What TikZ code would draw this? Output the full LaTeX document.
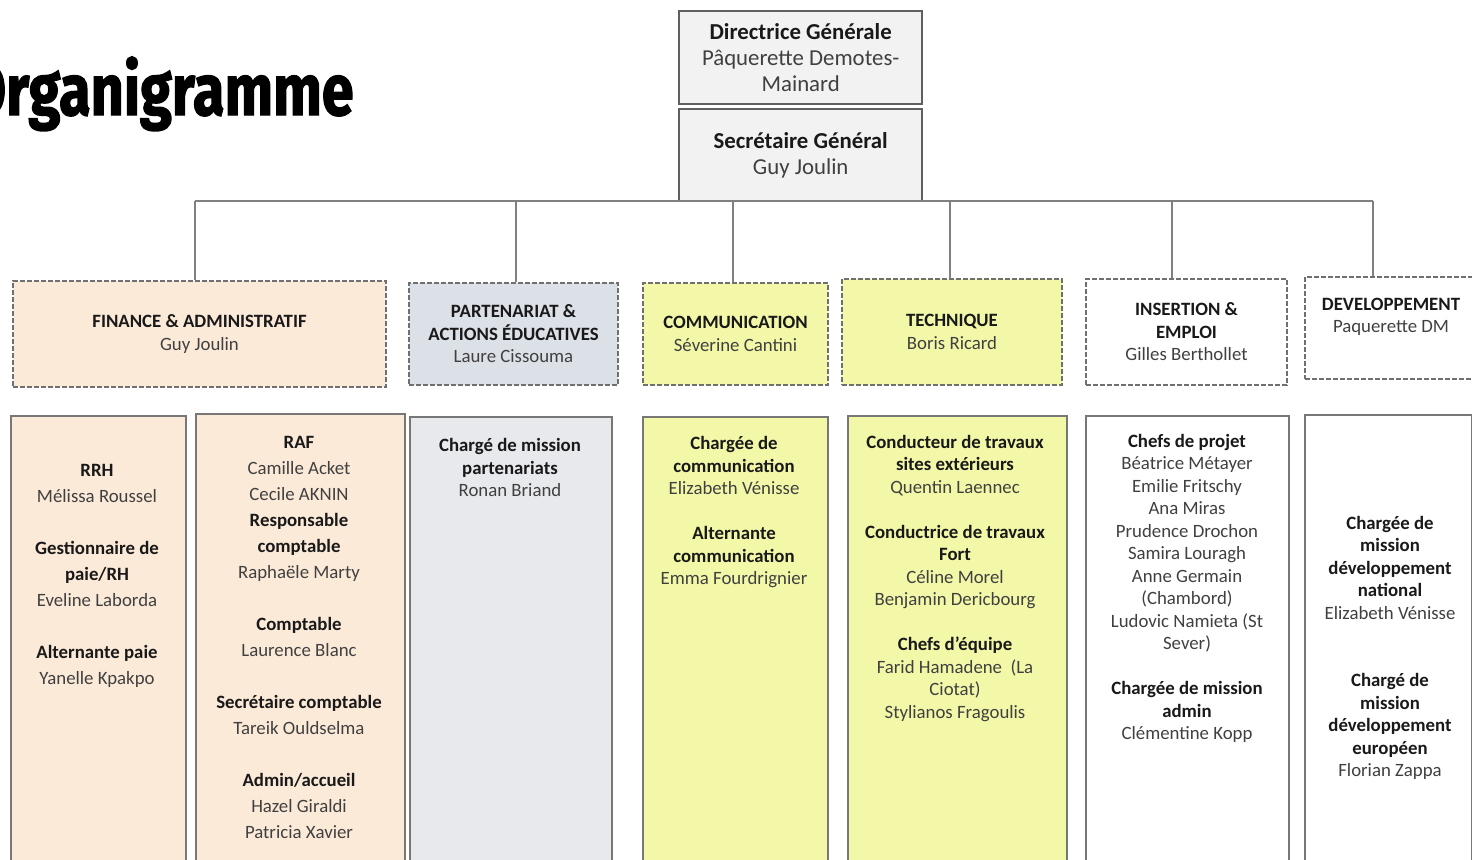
\documentclass[tikz,border=0pt]{standalone}
\usepackage{fontspec}
\setmainfont{Carlito}
\newfontfamily\titlefont{Fira Sans}[FakeBold=2]

\definecolor{peach}{HTML}{FCEAD9}
\definecolor{bluegrey}{HTML}{DCE0E7}
\definecolor{paleblue}{HTML}{E8E9EC}
\definecolor{lemon}{HTML}{F3F8A8}
\definecolor{boxgrey}{HTML}{F2F2F2}
\definecolor{namegrey}{HTML}{404040}
\definecolor{linegrey}{HTML}{808080}
\definecolor{dashgrey}{HTML}{707070}
\definecolor{framegrey}{HTML}{5F5F5F}

\newcommand{\post}[1]{{\bfseries\color{black!90}#1}}

\begin{document}
\begin{tikzpicture}[x=0.5pt, y=-0.5pt,
  topbox/.style={draw=framegrey, line width=1.2pt, fill=boxgrey, anchor=north west, inner sep=0pt,
    align=center, text=namegrey, font=\fontsize{11.4}{13}\selectfont},
  deptbox/.style={draw=dashgrey, line width=1pt, dash pattern=on 2.5pt off 1pt, anchor=north west,
    inner sep=0pt, align=center, text=namegrey, font=\fontsize{9.4}{11.25}\selectfont},
  staffbox/.style={draw=framegrey!85, line width=1.2pt, anchor=north west, inner sep=0pt},
  stafftext/.style={align=center, inner sep=0pt, text=namegrey, font=\fontsize{9.4}{11.25}\selectfont},
  loose/.style={font=\fontsize{9.4}{13}\selectfont},
  link/.style={draw=linegrey, line width=1.2pt}]
\useasboundingbox (0,0) rectangle (1472,859);

% title
\node [anchor=base east, inner sep=0pt] (title) at (354,115)
  {\titlefont\bfseries\fontsize{36}{36}\selectfont\scalebox{0.8}[1]{Organigramme}};

% direction
\node [topbox, minimum width=121.5pt, minimum height=46.5pt] (dg) at (678,10)
  {\post{Directrice Générale}\\Pâquerette Demotes-\\Mainard};
\node [topbox, minimum width=121.5pt, minimum height=46pt] (sg) at (678,108)
  {\post{Secrétaire Général}\\Guy Joulin};

% departments
\node [deptbox, fill=peach, minimum width=186.5pt, minimum height=53pt] (fin) at (12,280)
  {\post{FINANCE \& ADMINISTRATIF}\\Guy Joulin};
\node [deptbox, fill=bluegrey, minimum width=104.5pt, minimum height=51pt] (part) at (408,282)
  {\post{PARTENARIAT \&}\\\post{ACTIONS ÉDUCATIVES}\\Laure Cissouma};
\node [deptbox, fill=lemon, minimum width=92.5pt, minimum height=51pt] (comm) at (642,282)
  {\post{COMMUNICATION}\\Séverine Cantini};
\node [deptbox, fill=lemon, minimum width=110pt, minimum height=53pt] (tech) at (841,278)
  {\post{TECHNIQUE}\\Boris Ricard};
\node [deptbox, fill=white, minimum width=100.5pt, minimum height=53pt] (ins) at (1085,278)
  {\post{INSERTION \&}\\\post{EMPLOI}\\Gilles Berthollet};
\node [deptbox, fill=white, minimum width=90pt, minimum height=51pt] (dev) at (1304,276) {};
\node [stafftext] (devtxt) at (1391,317) {\post{DEVELOPPEMENT}\\Paquerette DM};

% links
\coordinate (j1) at (195,201);
\coordinate (j2) at (516,201);
\coordinate (j3) at (733,201);
\coordinate (j4) at (950,201);
\coordinate (j5) at (1172,201);
\coordinate (j6) at (1373,201);
\draw [link] (j1) -- (j6);
\draw [link] (j1) -- (j1 |- fin.north);
\draw [link] (j2) -- (j2 |- part.north);
\draw [link] (j3) -- (j3 |- comm.north);
\draw [link] (j4) -- (j4 |- tech.north);
\draw [link] (j5) -- (j5 |- ins.north);
\draw [link] (j6) -- (j6 |- dev.north);

% staff columns
\node [staffbox, fill=peach, minimum width=87.5pt, minimum height=232.5pt] (rrhbox) at (10,415) {};
\node [staffbox, fill=peach, minimum width=104.5pt, minimum height=233.5pt] (rafbox) at (195,413) {};
\node [staffbox, fill=paleblue, minimum width=101pt, minimum height=232pt] (partbox) at (409,416) {};
\node [staffbox, fill=lemon, minimum width=92.5pt, minimum height=232pt] (commbox) at (642,416) {};
\node [staffbox, fill=lemon, minimum width=109.5pt, minimum height=232.5pt] (techbox) at (847,415) {};
\node [staffbox, fill=white, minimum width=101.5pt, minimum height=232.5pt] (insbox) at (1085,415) {};
\node [staffbox, fill=white, minimum width=83.5pt, minimum height=233pt] (devbox) at (1304,414) {};

\node [stafftext, loose] (rrhtxt) at (97,575.5)
  {\post{RRH}\\Mélissa Roussel\\[13pt]\post{Gestionnaire de}\\\post{paie/RH}\\Eveline Laborda\\[13pt]%
   \post{Alternante paie}\\Yanelle Kpakpo};
\node [stafftext, loose] (raftxt) at (299,637.5)
  {\post{RAF}\\Camille Acket\\Cecile AKNIN\\\post{Responsable}\\\post{comptable}\\Raphaële Marty\\[13pt]%
   \post{Comptable}\\Laurence Blanc\\[13pt]\post{Secrétaire comptable}\\Tareik Ouldselma\\[13pt]%
   \post{Admin/accueil}\\Hazel Giraldi\\Patricia Xavier};
\node [stafftext] (parttxt) at (510,467.5)
  {\post{Chargé de mission}\\\post{partenariats}\\Ronan Briand};
\node [stafftext] (commtxt) at (734,512.5)
  {\post{Chargée de}\\\post{communication}\\Elizabeth Vénisse\\[11.25pt]%
   \post{Alternante}\\\post{communication}\\Emma Fourdrignier};
\node [stafftext] (techtxt) at (955,578.5)
  {\post{Conducteur de travaux}\\\post{sites extérieurs}\\Quentin Laennec\\[11.25pt]%
   \post{Conductrice de travaux}\\\post{Fort}\\Céline Morel\\Benjamin Dericbourg\\[11.25pt]%
   \post{Chefs d’équipe}\\Farid Hamadene~ (La\\Ciotat)\\Stylianos Fragoulis};
\node [stafftext] (instxt) at (1187,588.5)
  {\post{Chefs de projet}\\Béatrice Métayer\\Emilie Fritschy\\Ana Miras\\Prudence Drochon\\Samira Louragh\\%
   Anne Germain\\(Chambord)\\Ludovic Namieta (St\\Sever)\\[11.25pt]%
   \post{Chargée de mission}\\\post{admin}\\Clémentine Kopp};
\node [stafftext] (devstafftxt) at (1390,648)
  {\post{Chargée de}\\\post{mission}\\\post{développement}\\\post{national}\\Elizabeth Vénisse\\[22.5pt]%
   \post{Chargé de}\\\post{mission}\\\post{développement}\\\post{européen}\\Florian Zappa};
\end{tikzpicture}
\end{document}
